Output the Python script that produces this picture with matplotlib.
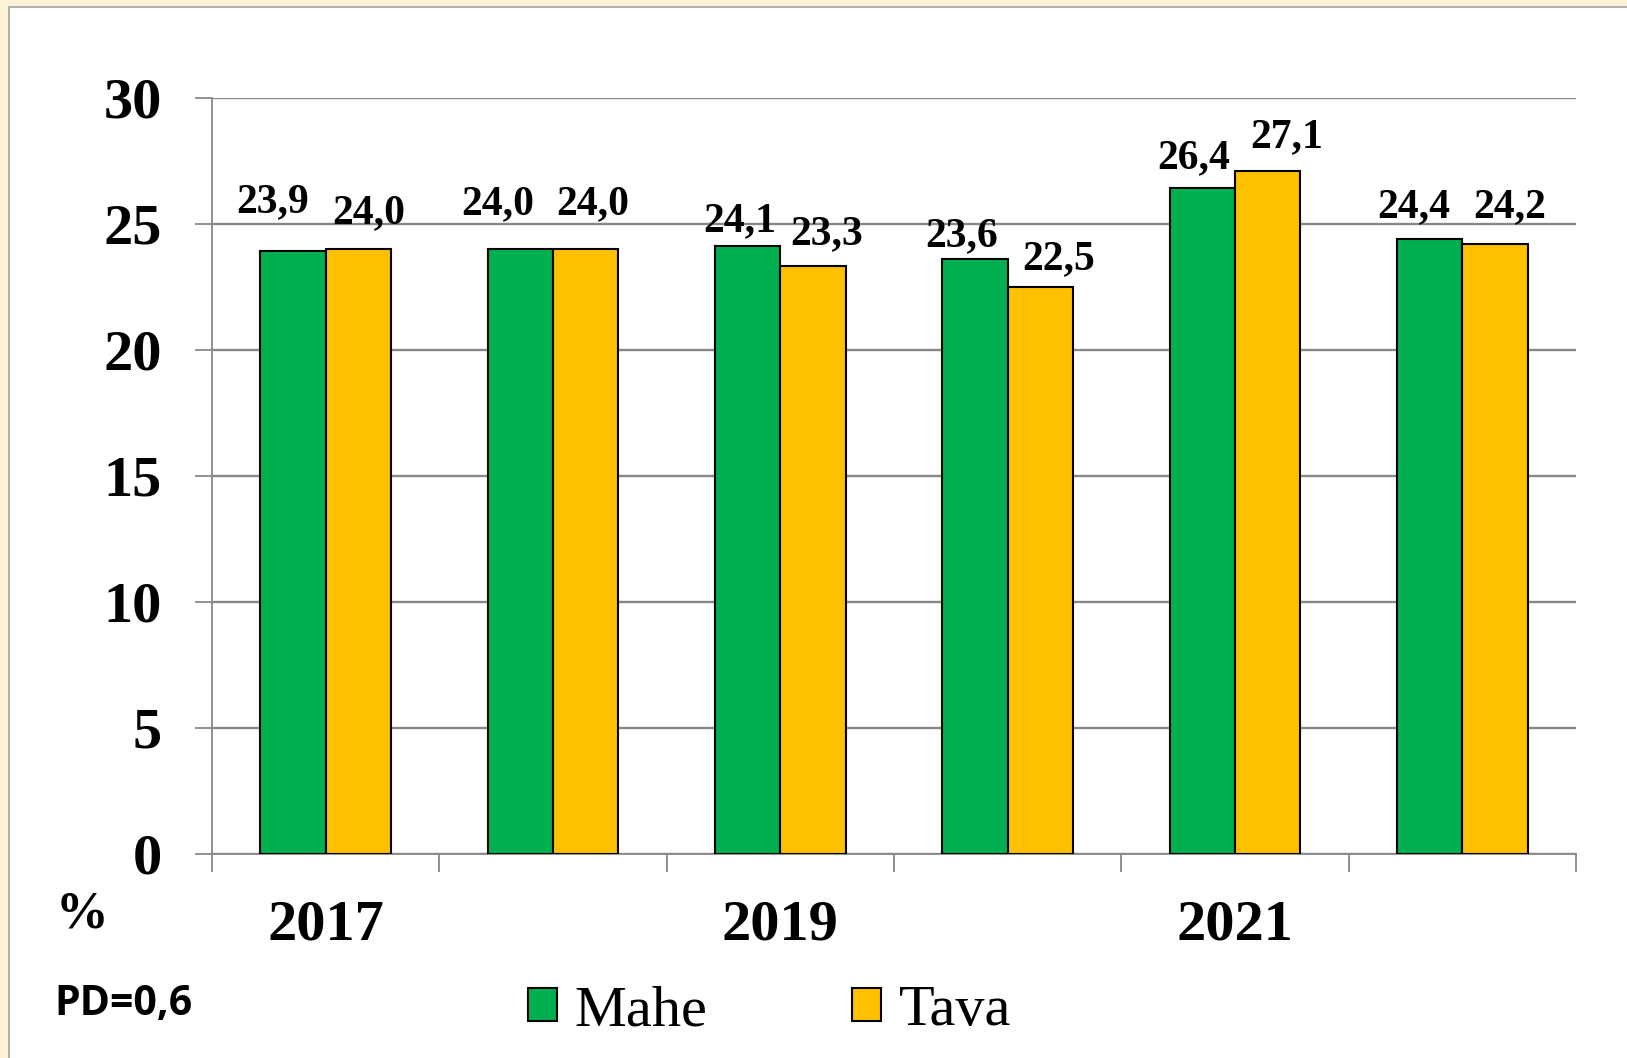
import numpy as np
import matplotlib
matplotlib.use('Agg')
import matplotlib.pyplot as plt
from matplotlib.patches import Rectangle, Patch

### Data ###
years = ['2017', '2018', '2019', '2020', '2021', '2022']
mahe = [23.9, 24.0, 24.1, 23.6, 26.4, 24.4]
tava = [24.0, 24.0, 23.3, 22.5, 27.1, 24.2]
series_names = ['Mahe', 'Tava']
note_text = 'PD=0,6'

### Style ###
W, H, DPI = 1627, 1058, 100
GREEN = '#00B050'
YELLOW = '#FFC000'
BEIGE = '#FDF1D6'
GRID = '#888888'
SERIF = 'Liberation Serif'
BAR_W = 0.2875

# hand placed label nudges (px): x shift from bar centre, gap above bar top
mahe_dx = [-20, -23, -8, -13, -9, -16]
mahe_gap = [39, 35, 15, 13, 20, 22]
tava_dx = [10, 7, 14, 18, 19, 15]
tava_gap = [26, 35, 22, 17, 23, 27]

PX = 72 / DPI  # px -> points

fig = plt.figure(figsize=(W / DPI, H / DPI), dpi=DPI)
fig.patch.set_facecolor(BEIGE)
fig.patches.append(Rectangle((9 / W, -0.05), 1.2, 1 - 7 / H + 0.05, transform=fig.transFigure,
                             facecolor='white', edgecolor='#A0A0A0', lw=1.2, zorder=-10))

ax = fig.add_axes([212 / W, 1 - 854 / H, (1576 - 212) / W, (854 - 97.5) / H])
ax.set_facecolor('none')

x = np.arange(len(years))
b1 = ax.bar(x - BAR_W / 2, mahe, BAR_W, color=GREEN, edgecolor='black', lw=1.5, zorder=3)
b2 = ax.bar(x + BAR_W / 2, tava, BAR_W, color=YELLOW, edgecolor='black', lw=1.5, zorder=3)

# value labels, decimal comma
for bars, vals, dxs, gaps in [(b1, mahe, mahe_dx, mahe_gap), (b2, tava, tava_dx, tava_gap)]:
    for bar, v, dx, gap in zip(bars, vals, dxs, gaps):
        ax.annotate(f'{v:.1f}'.replace('.', ','),
                    (bar.get_x() + bar.get_width() / 2, v),
                    xytext=(dx * PX, gap * PX), textcoords='offset points',
                    ha='center', va='baseline', fontsize=30, fontweight='bold',
                    family=SERIF, zorder=5)

ax.set_xlim(-0.5, len(years) - 0.5)
ax.set_ylim(0, 30)
ax.set_yticks(np.arange(0, 31, 5))
ax.yaxis.grid(True, color=GRID, lw=1.7, zorder=0)
ax.set_axisbelow(True)

for s in ['top', 'right']:
    ax.spines[s].set_visible(False)
for s in ['left', 'bottom']:
    ax.spines[s].set_color(GRID)
    ax.spines[s].set_linewidth(1.3)

# tick marks on category boundaries, year labels every second group
ax.set_xticks(np.arange(-0.5, len(years), 1.0))
ax.set_xticklabels([])
ax.set_xticks(x[::2], years[::2], minor=True)
ax.tick_params(axis='x', which='major', length=18 * PX, width=1.3, color=GRID)
ax.tick_params(axis='x', which='minor', length=0, pad=33)
ax.tick_params(axis='y', length=17 * PX, width=1.3, color=GRID, pad=24)
for lab in ax.get_xticklabels(minor=True) + ax.get_yticklabels():
    lab.set_fontsize(42)
    lab.set_fontweight('bold')
    lab.set_family(SERIF)

fig.text(56 / W, 1 - 915 / H, '%', fontsize=38, fontweight='bold', family=SERIF,
         ha='left', va='center')
fig.text(54 / W, 1 - 1005 / H, note_text, fontsize=29.5, fontweight='bold',
         family='Open Sans', ha='left', va='center')

handles = [Patch(facecolor=GREEN, edgecolor='black', lw=1.5),
           Patch(facecolor=YELLOW, edgecolor='black', lw=1.5)]
leg = fig.legend(handles, series_names, loc='center left', bbox_to_anchor=(528 / W, 1 - 1011 / H),
                 ncol=2, frameon=False, borderpad=0, borderaxespad=0,
                 handlelength=0.5, handleheight=0.5, handletextpad=0.3, columnspacing=2.48,
                 prop={'family': SERIF, 'size': 42})

plt.savefig('out.png', dpi=DPI, facecolor=fig.get_facecolor())
plt.close()
